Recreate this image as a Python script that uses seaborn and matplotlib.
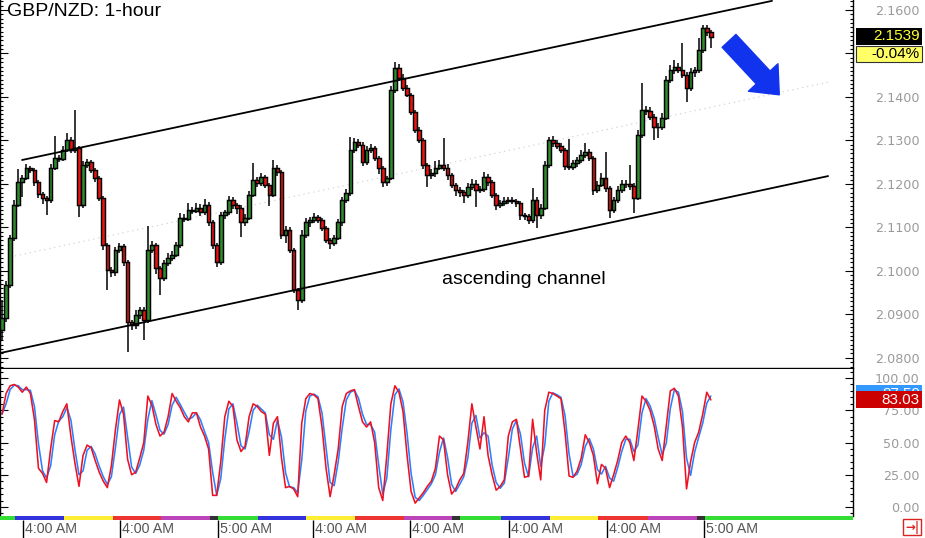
import numpy as np
import pandas as pd
import matplotlib
matplotlib.use("Agg")
import matplotlib.pyplot as plt
import seaborn as sns
from matplotlib.patches import Rectangle
from matplotlib.ticker import MultipleLocator, FixedLocator, FormatStrFormatter

sns.set_style("white")
plt.rcParams['font.family'] = ['Liberation Sans', 'DejaVu Sans']

# ---------------- data ----------------
title = "GBP/NZD: 1-hour"
annotation_text = "ascending channel"
first_open = 2.0864
closes = [
    2.0892, 2.0968, 2.1076, 2.1152, 2.1204, 2.1214, 2.1237, 2.1232, 2.1204, 2.1177,
    2.1168, 2.1163, 2.1237, 2.1260, 2.1258, 2.1278, 2.1301, 2.1278, 2.1283, 2.1152,
    2.1243, 2.1250, 2.1232, 2.1214, 2.1168, 2.1059, 2.1002, 2.0997, 2.1048, 2.1057,
    2.1020, 2.0882, 2.0875, 2.0899, 2.0910, 2.0887, 2.1048, 2.1059, 2.1007, 2.0984,
    2.1018, 2.1030, 2.1037, 2.1059, 2.1122, 2.1120, 2.1140, 2.1138, 2.1145, 2.1135,
    2.1152, 2.1112, 2.1059, 2.1020, 2.1128, 2.1135, 2.1163, 2.1152, 2.1145, 2.1112,
    2.1122, 2.1175, 2.1209, 2.1202, 2.1216, 2.1198, 2.1175, 2.1237, 2.1227, 2.1083,
    2.1094, 2.1048, 2.0956, 2.0933, 2.1083, 2.1112, 2.1117, 2.1124, 2.1117, 2.1099,
    2.1071, 2.1064, 2.1076, 2.1112, 2.1163, 2.1179, 2.1278, 2.1296, 2.1290, 2.1250,
    2.1278, 2.1283, 2.1260, 2.1237, 2.1204, 2.1214, 2.1416, 2.1467, 2.1444, 2.1421,
    2.1405, 2.1365, 2.1324, 2.1301, 2.1243, 2.1220, 2.1225, 2.1237, 2.1243, 2.1237,
    2.1220, 2.1198, 2.1186, 2.1181, 2.1175, 2.1193, 2.1200, 2.1186, 2.1188, 2.1216,
    2.1204, 2.1175, 2.1152, 2.1156, 2.1161, 2.1163, 2.1160, 2.1156, 2.1128, 2.1126,
    2.1117, 2.1163, 2.1128, 2.1145, 2.1243, 2.1301, 2.1294, 2.1287, 2.1278, 2.1241,
    2.1239, 2.1248, 2.1255, 2.1267, 2.1273, 2.1260, 2.1186, 2.1198, 2.1214, 2.1191,
    2.1140, 2.1163, 2.1186, 2.1200, 2.1199, 2.1195, 2.1168, 2.1313, 2.1370, 2.1368,
    2.1354, 2.1331, 2.1330, 2.1352, 2.1439, 2.1462, 2.1469, 2.1462, 2.1451, 2.1421,
    2.1457, 2.1462, 2.1508, 2.1559, 2.1549, 2.1539,
]
upper_wick_pips = [
    40, 8, 6, 10, 30, 6, 8, 5, 5, 4,
    5, 4, 8, 50, 6, 10, 16, 8, 87, 5,
    10, 8, 6, 5, 5, 5, 6, 8, 6, 8,
    5, 4, 6, 10, 8, 6, 55, 10, 6, 5,
    8, 10, 8, 8, 10, 8, 16, 8, 12, 8,
    14, 6, 5, 4, 8, 6, 10, 6, 5, 6,
    8, 8, 39, 8, 10, 5, 5, 18, 6, 5,
    10, 6, 5, 5, 10, 10, 8, 8, 5, 5,
    5, 5, 6, 8, 8, 10, 30, 10, 8, 6,
    10, 8, 5, 5, 5, 5, 10, 13, 8, 8,
    6, 5, 5, 6, 4, 5, 10, 15, 12, 63,
    8, 5, 5, 6, 5, 10, 12, 8, 8, 12,
    6, 5, 5, 6, 8, 6, 8, 6, 4, 5,
    5, 28, 6, 8, 10, 7, 10, 8, 6, 5,
    62, 6, 8, 10, 20, 8, 5, 8, 10, 59,
    5, 8, 10, 8, 8, 45, 6, 12, 62, 10,
    8, 6, 8, 10, 10, 12, 16, 8, 62, 6,
    10, 8, 28, 7, 6, 5,
]
lower_wick_pips = [
    23, 10, 8, 8, 6, 35, 5, 6, 8, 10,
    14, 35, 6, 6, 8, 6, 5, 8, 8, 28,
    8, 6, 8, 10, 8, 10, 46, 10, 8, 8,
    8, 69, 10, 8, 10, 46, 6, 8, 15, 39,
    8, 6, 8, 6, 6, 8, 6, 8, 6, 8,
    6, 8, 8, 12, 6, 8, 6, 10, 14, 34,
    8, 6, 6, 8, 6, 8, 25, 6, 8, 10,
    20, 8, 8, 23, 6, 8, 10, 6, 8, 8,
    8, 14, 6, 6, 8, 8, 6, 6, 8, 8,
    6, 8, 8, 14, 12, 8, 6, 6, 8, 8,
    6, 6, 8, 6, 8, 27, 8, 8, 6, 8,
    10, 8, 14, 10, 20, 8, 6, 39, 8, 6,
    8, 8, 12, 8, 6, 8, 6, 8, 10, 8,
    10, 6, 29, 8, 6, 6, 8, 6, 8, 10,
    8, 6, 8, 6, 8, 8, 12, 8, 6, 10,
    18, 8, 6, 8, 8, 8, 35, 6, 8, 10,
    8, 30, 24, 6, 6, 8, 10, 8, 8, 33,
    8, 10, 6, 6, 8, 26,
]
stoch_k = [
    72, 88, 94, 95, 93, 89, 93, 88, 68, 30,
    26, 19, 45, 67, 66, 74, 80, 55, 34, 16,
    40, 48, 46, 36, 27, 20, 15, 32, 60, 83,
    72, 37, 25, 27, 38, 50, 86, 79, 64, 55,
    58, 70, 88, 82, 77, 70, 66, 73, 73, 62,
    55, 45, 9, 9, 35, 70, 82, 78, 52, 43,
    47, 70, 80, 78, 74, 72, 40, 65, 70, 38,
    15, 16, 14, 8, 65, 84, 88, 87, 84, 62,
    30, 8, 25, 45, 78, 88, 90, 91, 78, 66,
    62, 66, 50, 15, 5, 40, 80, 94, 89, 74,
    40, 12, 3, 7, 11, 16, 20, 30, 55, 52,
    25, 10, 14, 21, 26, 50, 80, 62, 45, 70,
    40, 25, 13, 16, 21, 55, 66, 68, 45, 23,
    24, 68, 42, 21, 75, 89, 88, 86, 84, 58,
    24, 23, 28, 38, 56, 50, 40, 18, 33, 30,
    15, 25, 36, 50, 55, 50, 36, 60, 86, 82,
    75, 63, 45, 36, 63, 90, 92, 86, 62, 14,
    35, 50, 58, 72, 89, 83.03,
]
price_label = "2.1539"
change_label = "-0.04%"
stoch_k_label = "83.03"
stoch_d_label = "87.59"
time_tick_pos = [5.2, 29.1, 53.3, 76.8, 100.7, 125.2, 149.4, 173.3]
time_tick_labels = ["4:00 AM", "4:00 AM", "5:00 AM", "4:00 AM",
                    "4:00 AM", "4:00 AM", "4:00 AM", "5:00 AM"]
session_bounds = [-0.5, 3.2, 15.3, 27.4, 39.3, 51.4, 53.3, 63.2, 75.1, 87.2,
                  99.3, 111.1, 113.1, 123.2, 135.3, 147.2, 159.5, 171.6, 173.6, 210.1]
session_names = ["sun", "mon", "tue", "wed", "thu", "fri", "sun", "mon", "tue", "wed",
                 "thu", "fri", "sun", "mon", "tue", "wed", "thu", "fri", "sun"]
channel_upper_x, channel_upper_y = [4.94, 190.1], [2.1255, 2.1621]
channel_lower_x, channel_lower_y = [-0.49, 203.95], [2.0811, 2.1218]
channel_mid_x, channel_mid_y = [1.98, 203.95], [2.1032, 2.1434]
arrow_from = (179.5, 2.1529)
arrow_to = (191.9, 2.1405)
text_pos = (128.8, 2.0981)
covered_price_tick = 2.15

assert len(closes) == len(upper_wick_pips) == len(lower_wick_pips) == len(stoch_k)

# ---------------- derived ----------------
n = len(closes)
xs = np.arange(n)
c = np.array(closes)
o = np.array([first_open] + closes[:-1])
hi = np.maximum(o, c) + np.array(upper_wick_pips) * 0.0001
lo = np.minimum(o, c) - np.array(lower_wick_pips) * 0.0001
stoch_d = pd.Series(stoch_k).rolling(2, min_periods=1).mean().values
df_osc = pd.DataFrame({"x": xs, "k": stoch_k, "d": stoch_d})

session_colors = {"sun": "#33dd33", "mon": "#3333dd", "tue": "#ffee33",
                  "wed": "#ee3333", "thu": "#bb44bb", "fri": "#333333"}

# ---------------- figure ----------------
W, H = 925, 538
fig = plt.figure(figsize=(W / 100, H / 100), dpi=100)
fig.patch.set_facecolor("white")


def fy(px):
    return 1 - px / H


XL = (-0.5, 210.1)
ax = fig.add_axes([0, fy(368), 853 / W, 368 / H])
osc = fig.add_axes([0, fy(516), 853 / W, (516 - 369) / H])
band = fig.add_axes([0, fy(520), 853 / W, 4 / H])

label_color = "#9a9a9a"
for a in (ax, osc):
    a.set_xlim(*XL)
    a.set_facecolor("white")
    a.spines["top"].set_visible(False)
    for s in ("left", "right", "bottom"):
        a.spines[s].set_color("black")
        a.spines[s].set_linewidth(1.0)
    a.tick_params(axis="x", which="both", bottom=False, top=False,
                  labelbottom=False)
    a.tick_params(axis="y", which="both", left=True, right=True,
                  labelleft=False, labelright=True, direction="in",
                  color="black", width=0.8)
    a.tick_params(axis="y", which="major", length=6, pad=48,
                  labelsize=9.2, labelcolor=label_color)
    a.tick_params(axis="y", which="minor", length=2.5)
osc.spines["bottom"].set_visible(False)

# main price panel
ax.set_ylim(2.07766, 2.1623)
price_ticks = np.round(np.arange(2.08, 2.1601, 0.01), 2)
ax.yaxis.set_major_locator(FixedLocator(price_ticks))
ax.yaxis.set_minor_locator(MultipleLocator(0.001))
ax.yaxis.set_major_formatter(FormatStrFormatter("%.4f"))

# candles
ax.vlines(xs, lo, hi, color="black", linewidth=1.1, zorder=2)
body_bottom = np.minimum(o, c)
body_h = np.maximum(np.abs(c - o), 0.00012)
body_col = np.where(c >= o, "#2e8b2e", "#ee1111")
ax.bar(xs, body_h, bottom=body_bottom, width=0.9, color=body_col,
       edgecolor="black", linewidth=1.05, zorder=3)

# channel
ax.plot(channel_upper_x, channel_upper_y, color="black", lw=1.3, zorder=4)
ax.plot(channel_lower_x, channel_lower_y, color="black", lw=1.3, zorder=4)
ax.plot(channel_mid_x, channel_mid_y, color="#d4d4d4", lw=0.9,
        linestyle=(0, (1, 3)), zorder=1)
ax.text(text_pos[0], text_pos[1], annotation_text, ha="center", va="center",
        fontsize=14, color="black", zorder=5)
ax.annotate("", xy=arrow_to, xytext=arrow_from, xycoords="data",
            arrowprops=dict(arrowstyle="simple,head_length=0.85,head_width=1.45,tail_width=0.68",
                            mutation_scale=20, color="#1133ee", shrinkA=0, shrinkB=0),
            zorder=6)

# oscillator panel
osc.set_ylim(-7, 107)
osc.yaxis.set_major_locator(FixedLocator([0, 25, 50, 75, 100]))
osc.yaxis.set_minor_locator(MultipleLocator(5))
osc.yaxis.set_major_formatter(FormatStrFormatter("%.2f"))
sns.lineplot(data=df_osc, x="x", y="d", ax=osc, color="#2a80ff", linewidth=1.15)
sns.lineplot(data=df_osc, x="x", y="k", ax=osc, color="#ee1122", linewidth=1.15)
osc.set_xlabel("")
osc.set_ylabel("")
osc.set_xlim(*XL)

for a in (ax, osc):
    for lbl in a.get_yticklabels():
        lbl.set_ha("right")
        lbl.set_family("DejaVu Sans")
# the 2.1500 label sits fully under the change box in the reference
for tk, lbl in zip(price_ticks, ax.get_yticklabels()):
    if abs(tk - covered_price_tick) < 1e-9:
        lbl.set_visible(False)

# session band
band.set_xlim(*XL)
band.set_ylim(0, 1)
band.axis("off")
for k in range(len(session_names)):
    band.axvspan(session_bounds[k], session_bounds[k + 1], 0, 1,
                 color=session_colors[session_names[k]], lw=0)
trans = band.get_xaxis_transform()
band.vlines(time_tick_pos, -4.6, 0, transform=trans, color="black",
            lw=1.0, clip_on=False)
for p, t in zip(time_tick_pos, time_tick_labels):
    band.text(p + 0.5, -2.3, t, transform=trans, ha="left", va="center",
              fontsize=10.3, color="#555555", clip_on=False)

# title
fig.text(7 / W, fy(12), title, ha="left", va="center", fontsize=14, color="black")


# value boxes on the right
def box(x0, y0, x1, y1, fc, ec=None, lw=0.0, z=5):
    r = Rectangle((x0 / W, fy(y1)), (x1 - x0) / W, (y1 - y0) / H,
                  transform=fig.transFigure, facecolor=fc,
                  edgecolor=ec if ec else fc, linewidth=lw, zorder=z)
    fig.add_artist(r)
    return r


box(856, 28, 922, 45, "black")
fig.text(920 / W, fy(36.5), price_label, ha="right", va="center", fontsize=11,
         color="#ffff33", zorder=7)
box(856, 46, 922, 62, "#ffff66", ec="#333333", lw=0.8)
fig.text(920 / W, fy(54.5), change_label, ha="right", va="center", fontsize=11,
         color="black", zorder=7)
box(856, 385, 922, 402, "#3399ff", z=5)
# only the top strip of the blue (%D) box peeks out above the red one
clip_rect = Rectangle((856 / W, fy(391)), 66 / W, 6 / H, transform=fig.transFigure,
                      visible=False)
fig.add_artist(clip_rect)
d_txt = fig.text(920 / W, fy(393.5), stoch_d_label, ha="right", va="center",
                 fontsize=11, color="white", zorder=5.5)
d_txt.set_clip_path(clip_rect)
box(856, 391, 922, 408, "#cc0000", z=6)
fig.text(920 / W, fy(399.5), stoch_k_label, ha="right", va="center", fontsize=11,
         color="white", zorder=7)

# small icon bottom right
box(903, 519, 921, 535, "white", ec="#dd2222", lw=1.0)
fig.text(912 / W, fy(527), "→|", ha="center", va="center", fontsize=8.5,
         color="#dd2222", fontweight="bold", family="DejaVu Sans", zorder=7)

fig.savefig("out.png", dpi=100, facecolor="white")
